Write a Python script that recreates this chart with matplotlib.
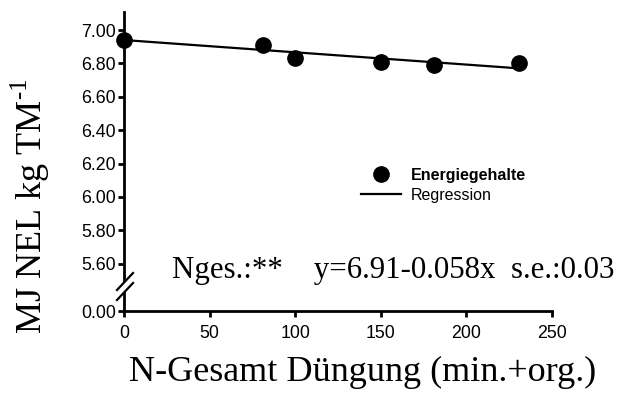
import numpy as np
import matplotlib
matplotlib.use('Agg')
import matplotlib.pyplot as plt
from matplotlib.lines import Line2D

# data
n_dose = [0, 81, 100, 150, 181, 231]
energy = [6.94, 6.91, 6.83, 6.81, 6.79, 6.80]
reg_x = [0, 231]
reg_y = [6.94, 6.77]
x_ticks = [0, 50, 100, 150, 200, 250]
y_ticks = [0.0, 5.6, 5.8, 6.0, 6.2, 6.4, 6.6, 6.8, 7.0]

plt.rcParams['font.family'] = 'Liberation Sans'
plt.rcParams['mathtext.fontset'] = 'custom'
plt.rcParams['mathtext.rm'] = 'Liberation Serif'

# broken y axis: 0 .. 5.6 squeezed into a small band
low, gap = 5.6, 0.284
def fwd(y):
    y = np.asarray(y, float)
    return np.where(y >= low, y, low - gap + y * gap / low)
def inv(v):
    v = np.asarray(v, float)
    return np.where(v >= low, v, (v - low + gap) * low / gap)

fig = plt.figure(figsize=(6.18, 3.99), dpi=100)
W, H = 618, 399
ax0, ax1, ay0, ay1 = 124, 552, 311, 12
ax = fig.add_axes([ax0 / W, 1 - ay0 / H, (ax1 - ax0) / W, (ay0 - ay1) / H])
ax.set_yscale('function', functions=(fwd, inv))

ax.plot(reg_x, reg_y, color='black', lw=1.6, zorder=3, clip_on=False)
ax.plot(n_dose, energy, 'o', color='black', ms=11, zorder=4, clip_on=False)

ax.set_xlim(0, 250)
ax.set_ylim(0, 7.108)
ax.set_xticks(x_ticks)
ax.set_yticks(y_ticks)
ax.set_yticklabels(['%.2f' % v for v in y_ticks])
ax.yaxis.set_minor_locator(matplotlib.ticker.NullLocator())
ax.tick_params(direction='out', length=4, width=2, labelsize=12.8)
ax.tick_params(axis='y', pad=2)
ax.tick_params(axis='x', pad=6)
for s in ['top', 'right']:
    ax.spines[s].set_visible(False)
for s in ['left', 'bottom']:
    ax.spines[s].set_linewidth(2)

# break marks on the y axis
pw, ph = ax1 - ax0, ay0 - ay1
def af(px, py):
    return (px - ax0) / pw, (ay0 - py) / ph
(xa, ya), (xb, yb) = af(117, 290), af(133, 273)
(xc, yc), (xd, yd) = af(117, 300), af(133, 283)
ax.fill([xa, xb, xd, xc], [ya, yb, yd, yc], color='white', transform=ax.transAxes,
        clip_on=False, zorder=5)
ax.plot([xa, xb], [ya, yb], color='black', lw=1.6, transform=ax.transAxes, clip_on=False, zorder=6)
ax.plot([xc, xd], [yc, yd], color='black', lw=1.6, transform=ax.transAxes, clip_on=False, zorder=6)

ax.set_ylabel('MJ NEL kg TM$^{\\text{-1}}$', family='Liberation Serif', fontsize=26)
ax.yaxis.set_label_coords((52 - ax0) / pw, (ay0 - 206) / ph)
fig.text(363 / W, 1 - 381 / H, 'N-Gesamt Düngung (min.+org.)', family='Liberation Serif',
         fontsize=26, ha='center', va='baseline')

ax.text(172 / W, 1 - 278 / H, 'Nges.:**    y=6.91-0.058x  s.e.:0.03', transform=fig.transFigure,
        family='Liberation Serif', fontsize=22.2, va='baseline', ha='left')

handles = [Line2D([], [], marker='o', ls='none', color='black', ms=11),
           Line2D([], [], color='black', lw=1.6)]
leg = ax.legend(handles, ['Energiegehalte', 'Regression'], loc='upper left',
                bbox_to_anchor=(361 / W, 1 - 168 / H), bbox_transform=fig.transFigure,
                frameon=False, fontsize=11.5, handlelength=2.5, handletextpad=0.6,
                labelspacing=0.3, borderpad=0, borderaxespad=0)
leg.get_texts()[0].set_fontweight('bold')

fig.savefig('out.png', dpi=100)
